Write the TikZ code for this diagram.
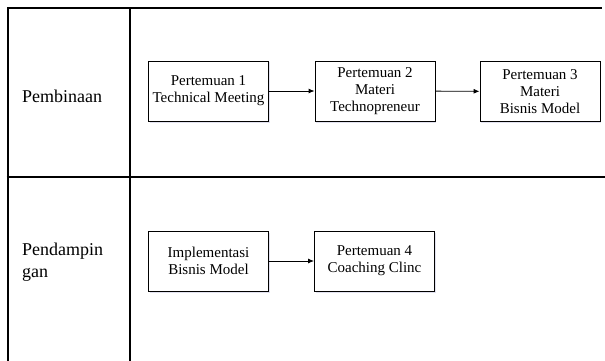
\documentclass[tikz,border=0pt]{standalone}
\usepackage{fontspec}
\setmainfont{Liberation Serif}
\usetikzlibrary{arrows.meta,shadows}
\begin{document}
\begin{tikzpicture}[x=1pt,y=-1pt,
  grid/.style={line width=2pt},
  box/.style={draw,line width=0.9pt,fill=white,minimum width=120pt,minimum height=60pt,
    align=center,font=\fontsize{15}{17}\selectfont,inner sep=0pt,
    drop shadow={shadow xshift=1pt,shadow yshift=-1.5pt,opacity=0.18,fill=blue!30!gray}},
  lbl/.style={anchor=west,align=left,font=\fontsize{18}{22}\selectfont,inner sep=0pt},
  arr/.style={-{Latex[length=6pt,width=5pt]},line width=0.9pt}]
\useasboundingbox (0,0) rectangle (605,361);
% table lines
\coordinate (lt) at (7.5,8);
\coordinate (lb) at (7.5,361);
\coordinate (rt) at (602,8);
\coordinate (dt) at (130,8);
\coordinate (db) at (130,361);
\coordinate (ml) at (6.5,177);
\coordinate (mr) at (605,177);
\draw[grid] (lb) -- (lt) -- (rt);
\draw[grid] (dt) -- (db);
\draw[grid] (ml) -- (mr);
% row labels
\node[lbl] (pemb) at (22,96) {Pembinaan};
\node[lbl] (pend) at (22,262) {Pendampin\\gan};
% boxes
\node[box] (p1) at (208.5,91) {Pertemuan 1\\Technical Meeting};
\node[box] (p2) at (375,91) {Pertemuan 2\\Materi\\Technopreneur};
\node[box] (p3) at (540,91.5) {Pertemuan 3\\Materi\\Bisnis Model};
\node[box] (im) at (208.5,261) {Implementasi\\Bisnis Model};
\node[box] (p4) at (374.5,261) {Pertemuan 4\\Coaching Clinc};
% arrows
\draw[arr] (p1) -- (p2);
\draw[arr] (p2) -- (p3);
\draw[arr] (im) -- (p4);
\end{tikzpicture}
\end{document}
